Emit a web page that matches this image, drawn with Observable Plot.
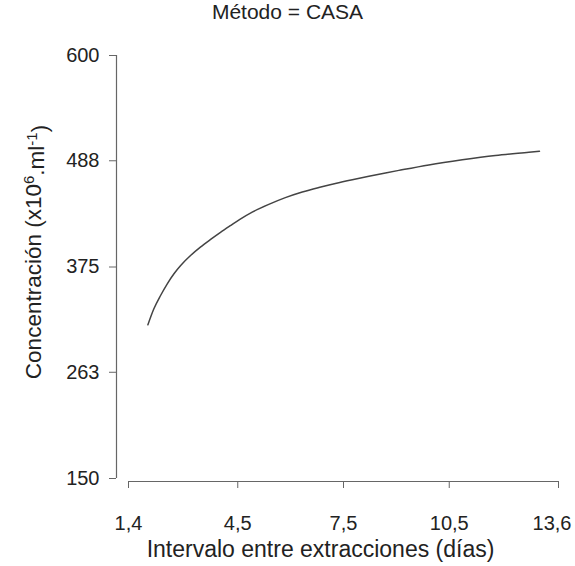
<!DOCTYPE html>
<html>
<head>
<meta charset="utf-8">
<script src="https://cdn.jsdelivr.net/npm/d3@7"></script>
<script src="https://cdn.jsdelivr.net/npm/@observablehq/plot@0.6"></script>
<style>
  html, body { margin: 0; padding: 0; background: #fff; }
  #title { width: 575px; height: 20px; line-height: 24px; text-align: center; overflow: visible;
           font-family: "Liberation Sans", Arial, sans-serif; font-size: 21px; color: #222; }
  svg { display: block; }
</style>
</head>
<body>
<div id="title">Método = CASA</div>
<div id="chart"></div>
<script>
// Curve: interval between collections (days) vs concentration
const intervalDays = [1.95, 2.12, 2.31, 2.50, 2.69, 2.88, 3.16, 3.44, 3.73, 4.01, 4.29, 4.56, 4.91, 5.38, 5.85, 6.33, 6.80, 7.27, 7.75, 8.22, 8.69, 9.07, 9.92, 10.87, 11.81, 12.76, 13.06];
const concentration = [313.5, 330.5, 344.7, 357.1, 367.8, 376.6, 387.2, 396.1, 404.3, 411.8, 418.9, 425.6, 433.3, 441.6, 448.8, 454.8, 459.6, 463.9, 467.9, 471.6, 475.1, 477.8, 483.6, 489.0, 493.6, 497.1, 498.2];

const xTicks = [1.4, 4.5, 7.5, 10.5, 13.6];
const xTickLabels = ["1,4", "4,5", "7,5", "10,5", "13,6"];
const yTicks = [150, 263, 375, 488, 600];
const xLabel = "Intervalo entre extracciones (días)";
const yLabel = "Concentración (x10^6.ml^-1)";

const curve = intervalDays.map((x, i) => ({x, y: concentration[i]}));
const font = "'Liberation Sans', Arial, sans-serif";
const lastTick = xTicks[xTicks.length - 1];

const plot = Plot.plot({
  width: 575,
  height: 546,
  marginTop: 35,
  marginBottom: 85,
  marginLeft: 116,
  marginRight: 17,
  style: {fontFamily: font, fontSize: "20px", color: "#222", background: "#fff"},
  x: {domain: [1.4, 13.6], insetLeft: 12},
  y: {domain: [150, 600], insetBottom: 3},
  marks: [
    Plot.ruleX([xTicks[0]], {y1: yTicks[0], y2: yTicks[yTicks.length - 1], dx: -12, stroke: "#666", strokeWidth: 1.2}),
    Plot.ruleY([yTicks[0]], {x1: xTicks[0], x2: lastTick, dy: 3, stroke: "#666", strokeWidth: 1.2}),
    Plot.axisY({ticks: yTicks, tickSize: 7, tickPadding: 10, label: null, stroke: "#666", fill: "#222", fontSize: 20, tickFormat: d => String(d)}),
    Plot.axisX({ticks: xTicks, tickSize: 7, tickPadding: 27, label: null, stroke: "#666", fill: "#222", fontSize: 20,
                tickFormat: d => d === lastTick ? "" : xTickLabels[xTicks.indexOf(d)]}),
    Plot.axisX({ticks: [lastTick], tickSize: 0, tickPadding: 34, dx: -6.5, label: null, fill: "#222", fontSize: 20,
                tickFormat: d => xTickLabels[xTicks.indexOf(d)]}),
    Plot.text([xLabel], {text: d => d, frameAnchor: "bottom", dx: -17, dy: 75, lineAnchor: "bottom", fontSize: 23, fill: "#222"}),
    Plot.text([yLabel], {text: d => d, frameAnchor: "left", rotate: -90, dx: -76, dy: -16.5, lineAnchor: "bottom", textAnchor: "middle", fontSize: 22.5, fill: "#222"}),
    Plot.line(curve, {x: "x", y: "y", curve: "monotone-x", stroke: "#444", strokeWidth: 1.5})
  ]
});

// render superscripts of the y label as real text tspans
plot.querySelectorAll("text").forEach(t => {
  if (t.textContent === yLabel) {
    const parts = [["Concentración (x10", 0], ["6", 1], [".ml", 0], ["-1", 1], [")", 0]];
    while (t.firstChild) t.removeChild(t.firstChild);
    let raised = false;
    parts.forEach(([s, sup]) => {
      const ts = document.createElementNS("http://www.w3.org/2000/svg", "tspan");
      ts.textContent = s;
      if (sup && !raised) { ts.setAttribute("dy", "-0.45em"); ts.setAttribute("font-size", "15px"); raised = true; }
      else if (sup) { ts.setAttribute("font-size", "15px"); }
      else if (!sup && raised) { ts.setAttribute("dy", "0.45em"); raised = false; }
      t.appendChild(ts);
    });
  }
});
document.getElementById("chart").appendChild(plot);
</script>
</body>
</html>
